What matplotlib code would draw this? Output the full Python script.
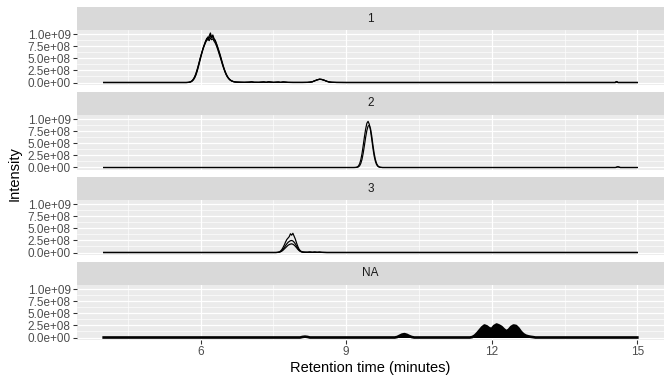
import matplotlib
matplotlib.use("Agg")
import matplotlib.pyplot as plt
import numpy as np

plt.rcParams['font.family'] = ['Liberation Sans', 'DejaVu Sans']

# ---------------- data (intensity in units of 1e9) ----------------
facets = ["1", "2", "3", "NA"]

# Panel 1
p1_pre_t = [4.0, 5.675]
p1_pre_y = [0.0, 0.0]
p1_peak_t = [5.700, 5.725, 5.750, 5.775, 5.800, 5.825, 5.850, 5.875, 5.900, 5.925,
             5.950, 5.975, 6.000, 6.025, 6.050, 6.075, 6.100, 6.125, 6.150, 6.175,
             6.200, 6.225, 6.250, 6.275, 6.300, 6.325, 6.350, 6.375, 6.400, 6.425,
             6.450, 6.475, 6.500, 6.525, 6.550, 6.575, 6.600, 6.625, 6.650, 6.675,
             6.700, 6.725, 6.750, 6.775, 6.800]
p1_a = [0.000, 0.001, 0.003, 0.008, 0.018, 0.035, 0.065, 0.110, 0.170, 0.250,
        0.340, 0.440, 0.540, 0.630, 0.720, 0.790, 0.860, 0.900, 0.950, 0.920,
        0.980, 0.930, 0.960, 0.900, 0.860, 0.800, 0.720, 0.640, 0.560, 0.470,
        0.380, 0.300, 0.230, 0.170, 0.120, 0.085, 0.058, 0.040, 0.027, 0.018,
        0.012, 0.009, 0.007, 0.006, 0.005]
p1_b = [0.000, 0.001, 0.002, 0.006, 0.014, 0.030, 0.055, 0.095, 0.150, 0.225,
        0.315, 0.415, 0.515, 0.610, 0.700, 0.780, 0.850, 0.920, 0.880, 0.970,
        1.030, 0.940, 0.990, 0.910, 0.880, 0.810, 0.740, 0.660, 0.580, 0.490,
        0.400, 0.315, 0.240, 0.180, 0.130, 0.092, 0.063, 0.043, 0.030, 0.020,
        0.014, 0.010, 0.008, 0.007, 0.006]
p1_c = [0.000, 0.001, 0.004, 0.010, 0.022, 0.042, 0.075, 0.120, 0.185, 0.265,
        0.355, 0.450, 0.545, 0.630, 0.710, 0.770, 0.830, 0.880, 0.910, 0.870,
        0.930, 0.890, 0.910, 0.860, 0.820, 0.760, 0.690, 0.610, 0.530, 0.450,
        0.365, 0.290, 0.220, 0.160, 0.115, 0.080, 0.055, 0.038, 0.026, 0.018,
        0.012, 0.009, 0.007, 0.006, 0.005]
p1_tail_t = [6.85, 6.9, 7.0, 7.05, 7.1, 7.2, 7.3, 7.35, 7.4, 7.5, 7.6, 7.65, 7.7,
             7.8, 7.9, 8.0, 8.1, 8.2, 8.25, 8.3, 8.35, 8.4, 8.45, 8.5, 8.55, 8.6,
             8.65, 8.7, 8.8, 9.0, 14.5, 14.55, 14.57, 14.6, 15.0]
p1_tail_y = [0.004, 0.003, 0.006, 0.012, 0.004, 0.003, 0.010, 0.003, 0.012, 0.002,
             0.008, 0.002, 0.010, 0.002, 0.001, 0.001, 0.001, 0.002, 0.006, 0.015,
             0.035, 0.055, 0.068, 0.062, 0.045, 0.025, 0.010, 0.004, 0.001, 0.0,
             0.0, 0.0, 0.02, 0.0, 0.0]

# Panel 2
p2_peak_t = [9.150, 9.175, 9.200, 9.225, 9.250, 9.275, 9.300, 9.325, 9.350, 9.375,
             9.400, 9.425, 9.450, 9.475, 9.500, 9.525, 9.550, 9.575, 9.600, 9.625,
             9.650, 9.675, 9.700, 9.725, 9.750]
p2_a = [0.000, 0.001, 0.003, 0.010, 0.030, 0.075, 0.160, 0.290, 0.460, 0.640,
        0.800, 0.920, 0.960, 0.900, 0.770, 0.590, 0.400, 0.240, 0.130, 0.060,
        0.025, 0.010, 0.004, 0.002, 0.000]
p2_b = [0.000, 0.000, 0.001, 0.004, 0.012, 0.035, 0.085, 0.170, 0.300, 0.460,
        0.630, 0.770, 0.860, 0.880, 0.810, 0.660, 0.470, 0.300, 0.170, 0.085,
        0.038, 0.015, 0.006, 0.002, 0.000]
p2_post_t = [14.55, 14.6, 14.65, 15.0]
p2_post_y = [0.0, 0.015, 0.0, 0.0]

# Panel 3
p3_peak_t = [7.550, 7.575, 7.600, 7.625, 7.650, 7.675, 7.700, 7.725, 7.750, 7.775,
             7.800, 7.825, 7.850, 7.875, 7.900, 7.925, 7.950, 7.975, 8.000, 8.025,
             8.050, 8.075, 8.100, 8.125, 8.150]
p3_a = [0.000, 0.002, 0.006, 0.015, 0.035, 0.065, 0.110, 0.160, 0.220, 0.270,
        0.300, 0.330, 0.390, 0.360, 0.400, 0.340, 0.280, 0.200, 0.130, 0.075,
        0.040, 0.022, 0.012, 0.008, 0.006]
p3_b = [0.000, 0.001, 0.004, 0.010, 0.022, 0.042, 0.070, 0.105, 0.145, 0.180,
        0.210, 0.230, 0.245, 0.250, 0.240, 0.215, 0.180, 0.135, 0.090, 0.055,
        0.030, 0.016, 0.009, 0.006, 0.005]
p3_c = [0.000, 0.001, 0.003, 0.008, 0.016, 0.030, 0.050, 0.075, 0.100, 0.125,
        0.150, 0.165, 0.175, 0.180, 0.172, 0.155, 0.130, 0.100, 0.068, 0.042,
        0.024, 0.013, 0.008, 0.005, 0.004]
p3_tail_t = [8.2, 8.25, 8.3, 8.35, 8.4, 8.45, 8.5, 8.6, 15.0]
p3_tail_y = [0.004, 0.008, 0.003, 0.007, 0.003, 0.006, 0.002, 0.0, 0.0]

# Panel NA (many overlaid traces -> dense black area)
na_t = [4.0, 8.05, 8.10, 8.15, 8.20, 8.25, 10.00, 10.05, 10.10, 10.15, 10.20,
        10.25, 10.30, 10.35, 10.40, 11.55, 11.60, 11.65, 11.70, 11.75, 11.80,
        11.85, 11.90, 11.95, 12.00, 12.05, 12.10, 12.15, 12.20, 12.25, 12.30,
        12.35, 12.40, 12.45, 12.50, 12.55, 12.60, 12.65, 12.70, 12.75, 12.80,
        12.85, 12.90, 15.0]
na_y = [0.0, 0.0, 0.012, 0.018, 0.012, 0.0, 0.0, 0.010, 0.035, 0.060, 0.070,
        0.055, 0.030, 0.010, 0.0, 0.0, 0.010, 0.040, 0.090, 0.150, 0.210,
        0.250, 0.230, 0.190, 0.180, 0.240, 0.270, 0.250, 0.220, 0.170, 0.130,
        0.160, 0.220, 0.250, 0.240, 0.190, 0.120, 0.070, 0.040, 0.025, 0.015,
        0.008, 0.0, 0.0]

x_breaks = [6, 9, 12, 15]
x_minor = [4.5, 7.5, 10.5, 13.5]
y_breaks = [0.0, 0.25e9, 0.5e9, 0.75e9, 1.0e9]
y_labels = ["0.0e+00", "2.5e+08", "5.0e+08", "7.5e+08", "1.0e+09"]
y_minor = [0.125e9, 0.375e9, 0.625e9, 0.875e9]

S = 1e9


def cat(*parts):
    return list(np.concatenate([np.asarray(p, dtype=float) for p in parts]))


panel_lines = {
    "1": [(cat(p1_pre_t, p1_peak_t, p1_tail_t), cat(p1_pre_y, v, p1_tail_y))
          for v in (p1_a, p1_b, p1_c)],
    "2": [(cat([4.0, 9.125], p2_peak_t, p2_post_t), cat([0.0, 0.0], v, p2_post_y))
          for v in (p2_a, p2_b)],
    "3": [(cat([4.0, 7.525], p3_peak_t, p3_tail_t), cat([0.0, 0.0], v, p3_tail_y))
          for v in (p3_a, p3_b, p3_c)],
}

# ---------------- figure ----------------
W, H = 672, 384
fig = plt.figure(figsize=(W / 96, H / 96), dpi=96)
fig.patch.set_facecolor("white")

left_px, right_px = 77, 664
pitch = 85
strip_h = 23
panel_h = 55
top0 = 7

xmin, xmax = 4.0, 15.0
xr = xmax - xmin
xlim = (xmin - 0.05 * xr, xmax + 0.05 * xr)
ymax = 1.04e9
ylim = (-0.05 * ymax, ymax * 1.05)

for i, f in enumerate(facets):
    st = top0 + i * pitch
    pt = st + strip_h
    # strip
    sax = fig.add_axes([left_px / W, 1 - pt / H, (right_px - left_px) / W, strip_h / H])
    sax.set_facecolor("#D9D9D9")
    sax.set_xticks([]); sax.set_yticks([])
    for sp in sax.spines.values():
        sp.set_visible(False)
    sax.text(0.5, 0.5, f, ha="center", va="center", fontsize=8.8,
             color="#1A1A1A", transform=sax.transAxes)
    # panel
    ax = fig.add_axes([left_px / W, 1 - (pt + panel_h) / H, (right_px - left_px) / W, panel_h / H])
    ax.set_facecolor("#EBEBEB")
    for sp in ax.spines.values():
        sp.set_visible(False)
    ax.set_xlim(*xlim)
    ax.set_ylim(*ylim)
    for xm in x_minor:
        ax.axvline(xm, color="white", lw=0.45, zorder=0)
    for xb in x_breaks:
        ax.axvline(xb, color="white", lw=0.9, zorder=0)
    for ym in y_minor:
        ax.axhline(ym, color="white", lw=0.45, zorder=0)
    for yb in y_breaks:
        ax.axhline(yb, color="white", lw=0.9, zorder=0)
    ax.set_yticks(y_breaks)
    ax.set_yticklabels(y_labels)
    ax.tick_params(axis="y", length=2.75, width=0.8, color="#333333", labelcolor="#4D4D4D",
                   labelsize=8.8, pad=2)
    if f == "NA":
        ax.set_xticks(x_breaks)
        ax.set_xticklabels([str(v) for v in x_breaks])
        ax.tick_params(axis="x", length=2.75, width=0.8, color="#333333", labelcolor="#4D4D4D",
                       labelsize=8.8, pad=2)
        t = np.asarray(na_t)
        y = np.asarray(na_y) * S
        ax.fill_between(t, 0, y, color="black", lw=0, zorder=2)
        ax.plot(t, y, color="black", lw=2.0, zorder=3, solid_joinstyle="round")
    else:
        ax.set_xticks([])
        for t, y in panel_lines[f]:
            ax.plot(t, np.asarray(y) * S, color="black", lw=0.9, zorder=3)

fig.text(15 / W, 1 - 174 / H, "Intensity", rotation=90, ha="center", va="center",
         fontsize=11, color="black")
fig.text((left_px + right_px) / 2 / W, 1 - 368 / H, "Retention time (minutes)",
         ha="center", va="center", fontsize=11, color="black")

fig.savefig("out.png", dpi=96)
